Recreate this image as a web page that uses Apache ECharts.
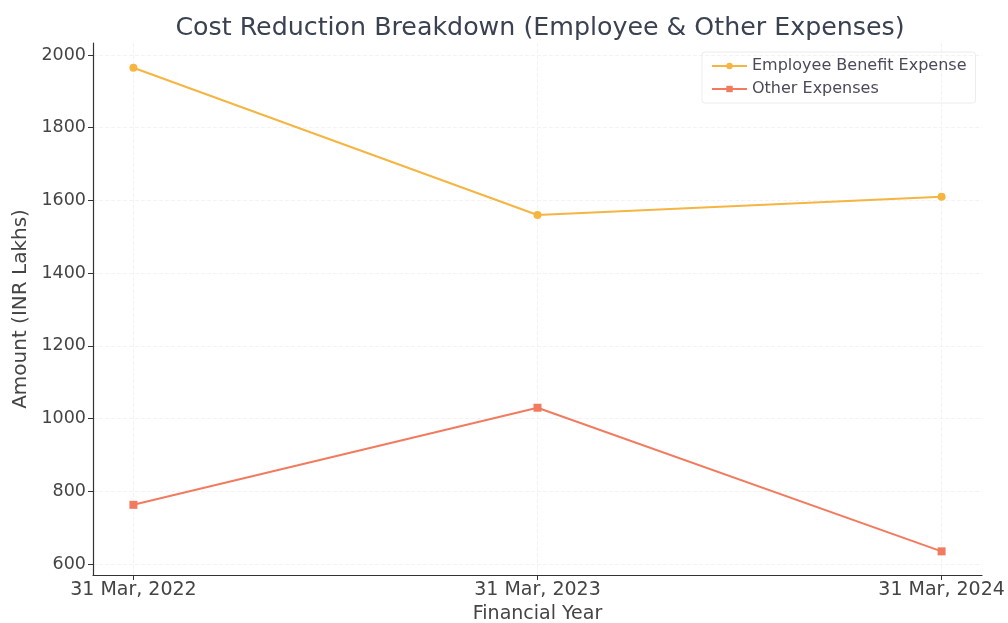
<!DOCTYPE html>
<html><head><meta charset="utf-8">
<script src="https://cdn.jsdelivr.net/npm/echarts@6/dist/echarts.min.js"></script>
<style>html,body{margin:0;padding:0;background:#fff}#c{width:1008px;height:623px}</style>
</head><body><div id="c"></div>
<script>
const categories = ['31 Mar, 2022', '31 Mar, 2023', '31 Mar, 2024'];
const employeeBenefit = [1965, 1560, 1610];
const otherExpenses = [763, 1030, 635];
const yTicks = [600, 800, 1000, 1200, 1400, 1600, 1800, 2000];

const font = 'DejaVu Sans';
const chart = echarts.init(document.getElementById('c'), null, {renderer: 'canvas'});
const idx = categories.map((_, i) => i);
chart.setOption({
  animation: false,
  textStyle: {fontFamily: font},
  title: {
    text: 'Cost Reduction Breakdown (Employee & Other Expenses)',
    left: 535, top: 11, textAlign: 'center',
    textStyle: {fontFamily: font, fontSize: 25.3, fontWeight: 'normal', color: '#3a4150'}
  },
  legend: {
    orient: 'vertical', left: 702, top: 52,
    padding: [6, 9, 6, 9], itemGap: 7, itemWidth: 35, itemHeight: 8,
    borderColor: '#ececec', borderWidth: 1, borderRadius: 3,
    textStyle: {fontFamily: font, fontSize: 16, color: '#4a4a5a'},
    data: ['Employee Benefit Expense', 'Other Expenses']
  },
  grid: {left: 93, right: 26, top: 43, bottom: 48, containLabel: false, outerBoundsMode: 'none'},
  xAxis: {
    type: 'value', min: -0.1, max: 2.1,
    name: 'Financial Year', nameLocation: 'middle', nameGap: 28,
    nameTextStyle: {fontFamily: font, fontSize: 19, color: '#444'},
    axisLine: {show: true, onZero: false, lineStyle: {color: '#333', width: 1.2}},
    axisTick: {show: true, length: 5, lineStyle: {color: '#333'}, customValues: idx},
    axisLabel: {customValues: idx, formatter: v => categories[Math.round(v)], fontFamily: font, fontSize: 19, color: '#444', margin: 6},
    splitLine: {show: true, lineStyle: {color: '#f3f3f3', type: 'dashed'}}
  },
  yAxis: {
    type: 'value', min: 570, max: 2033,
    name: 'Amount (INR Lakhs)', nameLocation: 'middle', nameGap: 62, nameRotate: 90,
    nameTextStyle: {fontFamily: font, fontSize: 20, color: '#444'},
    axisLine: {show: true, onZero: false, lineStyle: {color: '#333', width: 1.2}},
    axisTick: {show: true, length: 5, lineStyle: {color: '#333'}, customValues: yTicks},
    axisLabel: {customValues: yTicks, formatter: v => String(v), fontFamily: font, fontSize: 17.5, color: '#444', margin: 7},
    splitLine: {show: true, lineStyle: {color: '#f3f3f3', type: 'dashed'}}
  },
  series: [
    {
      name: 'Employee Benefit Expense', type: 'line',
      data: employeeBenefit.map((v, i) => [i, v]),
      symbol: 'circle', symbolSize: 8,
      itemStyle: {color: '#f5b540'},
      lineStyle: {color: '#f5b540', width: 2}
    },
    {
      name: 'Other Expenses', type: 'line',
      data: otherExpenses.map((v, i) => [i, v]),
      symbol: 'rect', symbolSize: 8,
      itemStyle: {color: '#f27b5f'},
      lineStyle: {color: '#f27b5f', width: 2}
    }
  ]
});
</script></body></html>
